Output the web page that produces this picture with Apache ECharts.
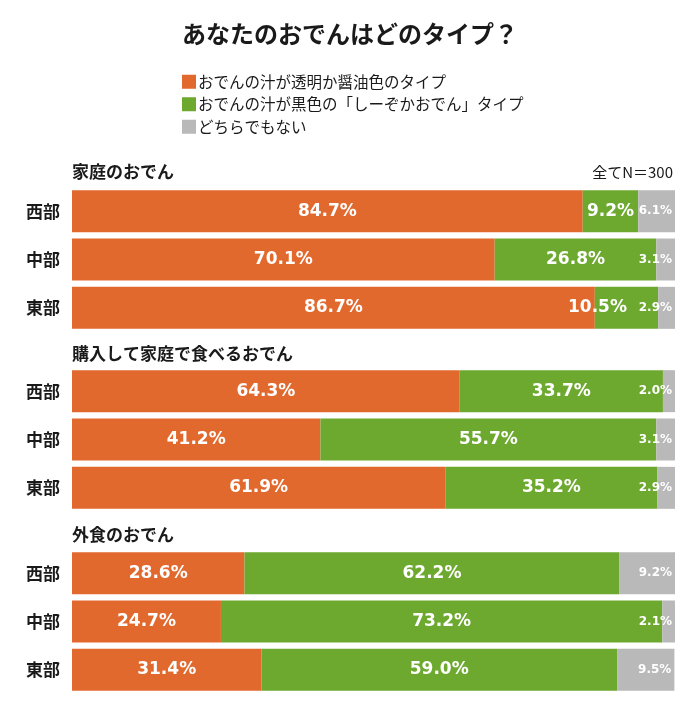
<!DOCTYPE html>
<html>
<head>
<meta charset="utf-8">
<style>html,body{margin:0;padding:0;background:#fff}#c{width:700px;height:718px}</style>
<script src="https://cdn.jsdelivr.net/npm/echarts@6/dist/echarts.min.js"></script>
</head>
<body>
<div id="c"></div>
<script>
const chartTitle = 'あなたのおでんはどのタイプ？';
const seriesNames = ['おでんの汁が透明か醤油色のタイプ', 'おでんの汁が黒色の「しーぞかおでん」タイプ', 'どちらでもない'];
const groups = ['家庭のおでん', '購入して家庭で食べるおでん', '外食のおでん'];
const regions = ['西部', '中部', '東部'];
const clearSoy = [[84.7, 70.1, 86.7], [64.3, 41.2, 61.9], [28.6, 24.7, 31.4]];
const blackBroth = [[9.2, 26.8, 10.5], [33.7, 55.7, 35.2], [62.2, 73.2, 59.0]];
const neither = [[6.1, 3.1, 2.9], [2.0, 3.1, 2.9], [9.2, 2.1, 9.5]];
const sampleNote = '全てN＝300';

const colors = ['#E2692E', '#6DA92F', '#B9B9B9'];
const numFont = 'DejaVu Sans';
const gridTops = [187, 367, 549];
const headingTops = [163, 345, 526];

const fmt = p => Number(p.value).toFixed(1) + '%';

const grids = [], xAxes = [], yAxes = [], series = [];
groups.forEach((g, gi) => {
  grids.push({ left: 72, right: 25, top: gridTops[gi], height: 145 });
  xAxes.push({ type: 'value', gridIndex: gi, min: 0, max: 100, show: false });
  yAxes.push({
    type: 'category', gridIndex: gi, data: regions, inverse: true,
    axisLine: { show: false }, axisTick: { show: false },
    axisLabel: { margin: 12, fontSize: 17, fontWeight: 'bold', color: '#1a1a1a', fontFamily: 'Noto Sans CJK JP' }
  });
  const vals = [clearSoy[gi], blackBroth[gi], neither[gi]];
  vals.forEach((arr, si) => {
    const big = si < 2;
    series.push({
      name: seriesNames[si], type: 'bar', stack: 'g' + gi,
      xAxisIndex: gi, yAxisIndex: gi, barWidth: 42,
      itemStyle: { color: colors[si] },
      label: {
        show: true, position: big ? 'inside' : 'insideRight', distance: 3,
        formatter: fmt, color: '#fff', fontFamily: numFont, fontWeight: 'bold',
        fontSize: big ? 17 : 12
      },
      data: arr.map((v, ri) => {
        const d = { value: v };
        if (gi === 0 && si === 1 && ri === 2) d.label = { offset: [-29, 0] };
        return d;
      })
    });
  });
});

const titles = [{
  text: chartTitle, left: 'center', top: 22, padding: 0,
  textStyle: { fontSize: 24, fontWeight: 'bold', color: '#1a1a1a', fontFamily: 'Noto Sans CJK JP' }
}];
groups.forEach((g, gi) => titles.push({
  text: g, left: 72, top: headingTops[gi], padding: 0,
  textStyle: { fontSize: 17, fontWeight: 'bold', color: '#1a1a1a', fontFamily: 'Noto Sans CJK JP' }
}));
titles.push({
  text: sampleNote, right: 27, top: 165, padding: 0,
  textStyle: { fontSize: 15, fontWeight: 'normal', color: '#1a1a1a', fontFamily: 'Noto Sans CJK JP' }
});

const chart = echarts.init(document.getElementById('c'));
chart.setOption({
  animation: false,
  title: titles,
  legend: {
    data: seriesNames, orient: 'vertical', left: 177, top: 69,
    itemWidth: 14, itemHeight: 14, itemGap: 7, icon: 'rect',
    selectedMode: false,
    textStyle: { fontSize: 15.5, color: '#1a1a1a', fontFamily: 'Noto Sans CJK JP', padding: [0, 0, 0, -3] }
  },
  grid: grids, xAxis: xAxes, yAxis: yAxes, series: series
});
</script>
</body>
</html>
